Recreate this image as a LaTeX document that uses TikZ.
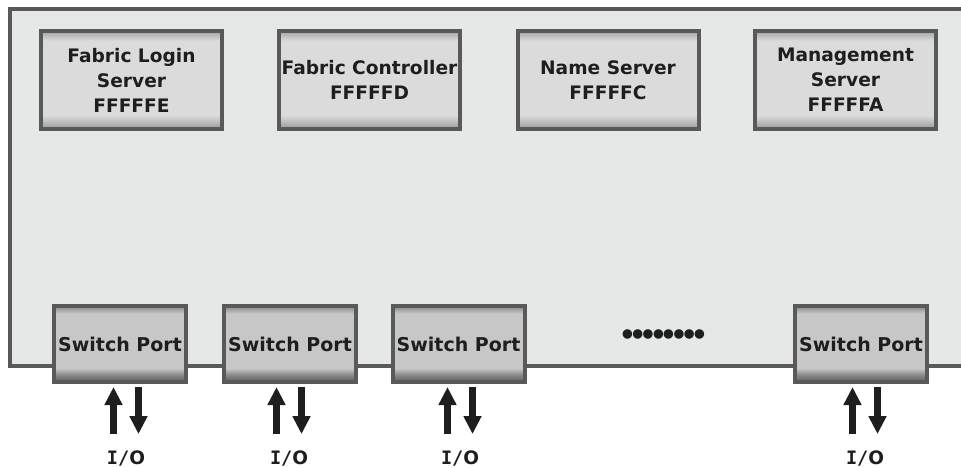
\documentclass[tikz,border=0pt]{standalone}
\usepackage{fontspec}
\setmainfont{DejaVu Sans}
\newfontfamily\iofont{DejaVu Sans Mono}
\usetikzlibrary{arrows.meta}
\definecolor{panel}{HTML}{E6E7E7}
\definecolor{edge}{HTML}{595959}
\definecolor{ink}{HTML}{1E1E1E}
\pgfdeclareverticalshading{srvshade}{100bp}{color(0bp)=(black!40); color(25bp)=(black!40); color(32bp)=(black!14); color(70bp)=(black!14); color(75bp)=(black!36); color(100bp)=(black!36)}
\pgfdeclareverticalshading{portshade}{100bp}{color(0bp)=(black!64); color(25bp)=(black!64); color(30bp)=(black!45); color(34bp)=(black!22); color(70bp)=(black!22); color(75bp)=(black!48); color(100bp)=(black!48)}
\newcommand{\bul}{•\kern-7pt}
\tikzset{
  srvbox/.style={draw=edge, line width=4pt, shading=srvshade, minimum width=181pt, minimum height=98pt, inner sep=0pt, align=center, text=ink, font=\bfseries\fontsize{18.6}{25}\selectfont},
  portbox/.style={draw=edge, line width=4pt, shading=portshade, minimum width=132pt, minimum height=76pt, inner sep=0pt, text=ink, font=\bfseries\fontsize{19}{24}\selectfont},
  iolabel/.style={inner sep=0pt, text=ink, font=\bfseries\fontsize{18.5}{20}\selectfont},
  ioarrow/.style={draw=ink, line width=7pt, -{Triangle[length=18pt,width=17pt]}},
}
\begin{document}
\begin{tikzpicture}[x=1pt,y=-1pt]
\useasboundingbox (0,0) rectangle (961,468);
\clip (0,0) rectangle (961,468);
\draw[draw=edge, fill=panel, line width=4pt] (10,9) rectangle (980,366);
\node[srvbox] (fls) at (131.5,80) {Fabric Login\\Server\\FFFFFE};
\node[srvbox] (fc) at (369.5,80) {Fabric Controller\\FFFFFD};
\node[srvbox] (ns) at (608,80) {Name Server\\FFFFFC};
\node[srvbox] (ms) at (845.5,80) {Management\\Server\\FFFFFA};
\node[portbox] (sp1) at (120,344) {Switch Port};
\node[portbox] (sp2) at (290,344) {Switch Port};
\node[portbox] (sp3) at (458.5,344) {Switch Port};
\node[portbox] (sp4) at (861,344) {Switch Port};
\node[inner sep=0pt, text=ink, font=\bfseries\fontsize{27}{27}\selectfont] (dots) at (663.5,337) {\bul\bul\bul\bul\bul\bul\bul•};
\node[iolabel] (io1) at (126,458) {{\iofont I/}O};
\node[iolabel] (io2) at (289,458) {{\iofont I/}O};
\node[iolabel] (io3) at (460,458) {{\iofont I/}O};
\node[iolabel] (io4) at (865,458) {{\iofont I/}O};
\foreach \i in {1,2,3,4}{
  \draw[ioarrow, shorten >=3pt] ([xshift=-12.5pt,yshift=16pt]io\i.north) -- ([xshift=-12.5pt]io\i.north |- sp\i.south);
  \draw[ioarrow, shorten <=3pt] ([xshift=12.5pt]io\i.north |- sp\i.south) -- ([xshift=12.5pt,yshift=16pt]io\i.north);
}
\end{tikzpicture}
\end{document}
